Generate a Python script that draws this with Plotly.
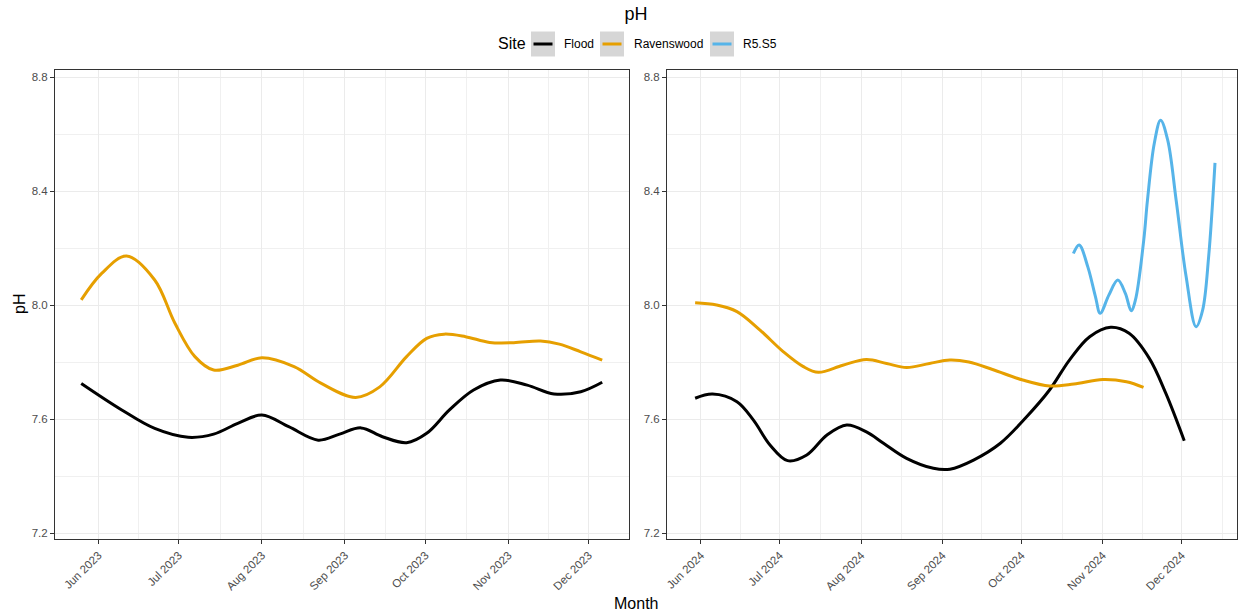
import plotly.graph_objects as go

# ---------------- data ----------------
flood23_x = ["2023-05-25 14:00", "2023-06-09 17:00", "2023-06-22", "2023-07-04 12:00", "2023-07-14",
             "2023-07-23", "2023-08-01", "2023-08-11", "2023-08-22", "2023-08-30", "2023-09-07",
             "2023-09-15", "2023-09-24", "2023-10-01 12:00", "2023-10-10", "2023-10-19", "2023-10-29",
             "2023-11-08", "2023-11-18", "2023-11-28", "2023-12-06"]
flood23_y = [7.725, 7.632, 7.567, 7.536, 7.547, 7.585, 7.614, 7.573, 7.526, 7.547, 7.569,
             7.538, 7.517, 7.550, 7.632, 7.702, 7.737, 7.719, 7.688, 7.696, 7.729]

raven23_x = ["2023-05-25 14:00", "2023-06-02 05:00", "2023-06-11 12:00", "2023-06-22", "2023-06-29 12:00",
             "2023-07-07", "2023-07-14", "2023-07-23", "2023-08-01", "2023-08-13", "2023-08-23",
             "2023-09-05", "2023-09-14", "2023-09-24", "2023-10-01 12:00", "2023-10-08", "2023-10-16",
             "2023-10-25", "2023-11-03", "2023-11-13", "2023-11-20", "2023-11-28", "2023-12-06"]
raven23_y = [8.018, 8.111, 8.172, 8.088, 7.937, 7.819, 7.772, 7.789, 7.815, 7.784, 7.726,
             7.676, 7.713, 7.819, 7.883, 7.898, 7.889, 7.869, 7.868, 7.874, 7.863, 7.836, 7.807]

flood24_x = ["2024-05-29 19:00", "2024-06-05 10:00", "2024-06-14 17:00", "2024-06-21", "2024-06-27 07:00",
             "2024-07-04", "2024-07-11 07:00", "2024-07-19", "2024-07-26 12:00", "2024-08-03",
             "2024-08-09 12:00", "2024-08-18 07:00", "2024-08-28 12:00", "2024-09-03 19:00",
             "2024-09-12 19:00", "2024-09-23", "2024-10-03", "2024-10-11 17:00", "2024-10-19 07:00",
             "2024-10-27", "2024-11-04", "2024-11-11", "2024-11-18 17:00", "2024-11-25", "2024-12-02"]
flood24_y = [7.673, 7.688, 7.661, 7.596, 7.509, 7.454, 7.474, 7.544, 7.579, 7.555,
             7.515, 7.462, 7.427, 7.424, 7.456, 7.515, 7.608, 7.702, 7.807,
             7.889, 7.922, 7.901, 7.813, 7.690, 7.524]

raven24_x = ["2024-05-29 19:00", "2024-06-07", "2024-06-14 17:00", "2024-06-23 12:00", "2024-07-02 10:00",
             "2024-07-10", "2024-07-15 17:00", "2024-07-25", "2024-08-03", "2024-08-10 17:00",
             "2024-08-18 07:00", "2024-08-27", "2024-09-03 19:00", "2024-09-11", "2024-09-20",
             "2024-10-01 12:00", "2024-10-11 17:00", "2024-10-21", "2024-11-01", "2024-11-10",
             "2024-11-16 12:00"]
raven24_y = [8.008, 8.000, 7.977, 7.912, 7.836, 7.784, 7.764, 7.789, 7.809, 7.795,
             7.781, 7.795, 7.807, 7.800, 7.774, 7.737, 7.716, 7.723, 7.739, 7.731, 7.711]

r5s5_x = ["2024-10-20 19:00", "2024-10-23", "2024-10-26 07:00", "2024-10-29 05:00", "2024-10-31",
          "2024-11-03 07:00", "2024-11-06 17:00", "2024-11-09 14:00", "2024-11-11 19:00", "2024-11-13 10:00",
          "2024-11-16 14:00", "2024-11-18", "2024-11-20 14:00", "2024-11-23", "2024-11-25 17:00",
          "2024-11-28 22:00", "2024-12-02 17:00", "2024-12-06 12:00", "2024-12-09", "2024-12-11 07:00",
          "2024-12-13 17:00"]
r5s5_y = [8.181, 8.211, 8.134, 8.029, 7.971, 8.035, 8.088, 8.041, 7.980, 8.018,
          8.228, 8.368, 8.567, 8.649, 8.579, 8.368, 8.100, 7.924, 7.982, 8.170,
          8.499]

sites = ["Flood", "Ravenswood", "R5.S5"]
site_colors = ["#000000", "#E69F00", "#56B4E9"]

month_ticks_2023 = ["2023-06-01", "2023-07-01", "2023-08-01", "2023-09-01", "2023-10-01", "2023-11-01", "2023-12-01"]
month_labels_2023 = ["Jun 2023", "Jul 2023", "Aug 2023", "Sep 2023", "Oct 2023", "Nov 2023", "Dec 2023"]
month_ticks_2024 = ["2024-06-01", "2024-07-01", "2024-08-01", "2024-09-01", "2024-10-01", "2024-11-01", "2024-12-01"]
month_labels_2024 = ["Jun 2024", "Jul 2024", "Aug 2024", "Sep 2024", "Oct 2024", "Nov 2024", "Dec 2024"]
minor_ticks_2023 = ["2023-05-16", "2023-06-16", "2023-07-16 12:00", "2023-08-16 12:00", "2023-09-16",
                    "2023-10-16 12:00", "2023-11-16"]
minor_ticks_2024 = ["2024-05-16 12:00", "2024-06-16", "2024-07-16 12:00", "2024-08-16 12:00", "2024-09-16",
                    "2024-10-16 12:00", "2024-11-16", "2024-12-16 12:00"]
y_ticks = [7.2, 7.6, 8.0, 8.4, 8.8]
y_tick_labels = ["7.2", "7.6", "8.0", "8.4", "8.8"]
y_minor = [7.4, 7.8, 8.2, 8.6]

# ---------------- layout geometry (pixels) ----------------
FW, FH = 1238, 615
ML, MR, MT, MB = 55, 1, 70, 76
PW = FW - ML - MR
PH = FH - MT - MB

def px2x(px):
    return (px - ML) / PW

def py2y(py):
    return (FH - MB - py) / PH

FONT = "Liberation Sans, Arial, sans-serif"

# ---------------- figure ----------------
fig = go.Figure()
lw = 3

fig.add_trace(go.Scatter(x=flood23_x, y=flood23_y, mode="lines", line=dict(color=site_colors[0], width=lw, shape="spline"),
                         name=sites[0], xaxis="x", yaxis="y"))
fig.add_trace(go.Scatter(x=raven23_x, y=raven23_y, mode="lines", line=dict(color=site_colors[1], width=lw, shape="spline"),
                         name=sites[1], xaxis="x", yaxis="y"))
fig.add_trace(go.Scatter(x=flood24_x, y=flood24_y, mode="lines", line=dict(color=site_colors[0], width=lw, shape="spline"),
                         name=sites[0], xaxis="x2", yaxis="y2"))
fig.add_trace(go.Scatter(x=raven24_x, y=raven24_y, mode="lines", line=dict(color=site_colors[1], width=lw, shape="spline"),
                         name=sites[1], xaxis="x2", yaxis="y2"))
fig.add_trace(go.Scatter(x=r5s5_x, y=r5s5_y, mode="lines", line=dict(color=site_colors[2], width=lw, shape="spline"),
                         name=sites[2], xaxis="x2", yaxis="y2"))

grid = "#ebebeb"
tickfont = dict(family=FONT, size=11.5, color="#4d4d4d")

def xax(domain, rng, tv, tt, minor_vals, anchor):
    return dict(domain=domain, range=rng, type="date", anchor=anchor, automargin=False,
                tickmode="array", tickvals=tv, ticktext=tt, tickangle=-45, tickfont=tickfont,
                ticks="outside", ticklen=4, tickcolor="#333333",
                showgrid=True, gridcolor=grid, gridwidth=1,
                minor=dict(tickvals=minor_vals, showgrid=True, gridcolor="#f0f0f0", gridwidth=1, ticks=""),
                showline=True, linecolor="#333333", linewidth=1, mirror=True, zeroline=False)

def yax(anchor):
    return dict(domain=[0, 1], range=[7.179, 8.825], anchor=anchor, automargin=False,
                tickmode="array", tickvals=y_ticks, ticktext=y_tick_labels, tickfont=tickfont,
                ticks="outside", ticklen=4, tickcolor="#333333",
                showgrid=True, gridcolor=grid, gridwidth=1,
                minor=dict(tickvals=y_minor, showgrid=True, gridcolor="#f0f0f0", gridwidth=1, ticks=""),
                showline=True, linecolor="#333333", linewidth=1, mirror=True, zeroline=False)

fig.update_layout(
    width=FW, height=FH,
    margin=dict(l=ML, r=MR, t=MT, b=MB),
    paper_bgcolor="white", plot_bgcolor="white",
    font=dict(family=FONT, color="black"),
    xaxis=xax([0, px2x(629)], ["2023-05-15 19:00", "2023-12-16 00:00"], month_ticks_2023, month_labels_2023,
              minor_ticks_2023, "y"),
    xaxis2=xax([px2x(667), 1], ["2024-05-19 02:00", "2024-12-22 02:00"], month_ticks_2024, month_labels_2024,
               minor_ticks_2024, "y2"),
    yaxis=yax("x"),
    yaxis2=yax("x2"),
    title=dict(text="pH", x=636 / FW, xanchor="center", y=1 - 14 / FH, yanchor="middle",
               font=dict(size=18, color="black", family=FONT)),
    showlegend=False,
)

# axis titles
fig.add_annotation(text="Month", xref="paper", yref="paper", x=px2x(636), y=py2y(603),
                   xanchor="center", yanchor="middle", showarrow=False, font=dict(size=16, color="black", family=FONT))
fig.add_annotation(text="pH", xref="paper", yref="paper", x=px2x(19), y=py2y(304), textangle=-90,
                   xanchor="center", yanchor="middle", showarrow=False, font=dict(size=16, color="black", family=FONT))

# legend (ggplot style: gray key boxes with line samples)
LEG_Y = 44
fig.add_annotation(text="Site", xref="paper", yref="paper", x=px2x(496), y=py2y(LEG_Y),
                   xanchor="left", yanchor="middle", showarrow=False, font=dict(size=16, color="black", family=FONT))
key_left = [531, 600, 710]
label_left = [562, 632, 741]
for k in range(3):
    fig.add_shape(type="rect", xref="paper", yref="paper",
                  x0=px2x(key_left[k]), x1=px2x(key_left[k] + 24), y0=py2y(LEG_Y - 12.5), y1=py2y(LEG_Y + 12.5),
                  fillcolor="#d6d6d6", line=dict(width=0), layer="above")
    fig.add_shape(type="line", xref="paper", yref="paper",
                  x0=px2x(key_left[k] + 2.5), x1=px2x(key_left[k] + 21.5), y0=py2y(LEG_Y), y1=py2y(LEG_Y),
                  line=dict(color=site_colors[k], width=3), layer="above")
    fig.add_annotation(text=sites[k], xref="paper", yref="paper", x=px2x(label_left[k]), y=py2y(LEG_Y),
                       xanchor="left", yanchor="middle", showarrow=False,
                       font=dict(size=12, color="black", family=FONT))

fig.write_html("out.html", config={"displayModeBar": False},
               post_script="document.body.style.margin='0';document.body.style.padding='0';")
